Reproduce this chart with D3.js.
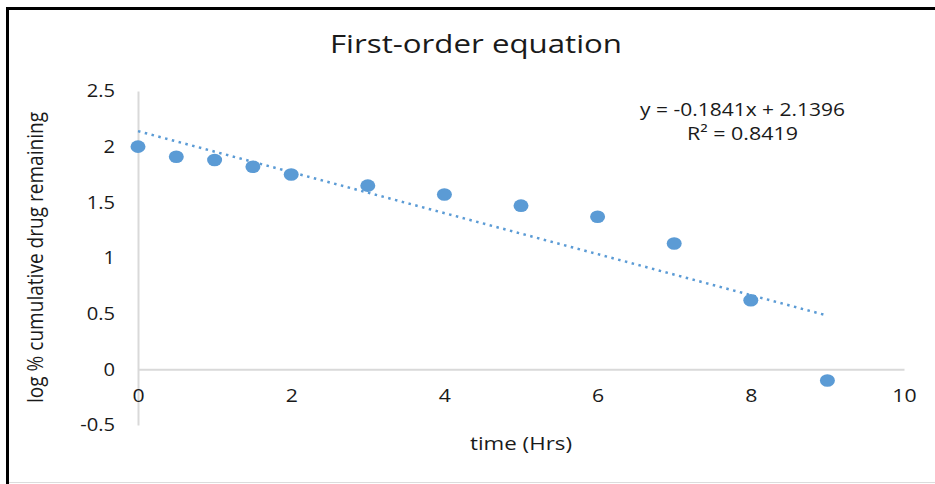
<!DOCTYPE html>
<html>
<head>
<meta charset="utf-8">
<script src="https://cdn.jsdelivr.net/npm/d3@7"></script>
<style>
  body { margin: 0; background: #fff; }
  text { font-family: "Open Sans", "Noto Sans", sans-serif; fill: #1a1a1a; }
</style>
</head>
<body>
<div id="chart"></div>
<script>
// time (Hrs) and log % cumulative drug remaining
const times = [0, 0.5, 1, 1.5, 2, 3, 4, 5, 6, 7, 8, 9];
const logRemaining = [2.0, 1.91, 1.88, 1.82, 1.75, 1.65, 1.57, 1.47, 1.37, 1.13, 0.62, -0.1];
// linear trendline endpoints (from y = -0.1841x + 2.1396)
const trendPoints = [[0, 2.1396], [9, 0.4827]];
const xTicks = [0, 2, 4, 6, 8, 10];
const yTicks = [-0.5, 0, 0.5, 1, 1.5, 2, 2.5];
const titleText = 'First-order equation';
const xLabel = 'time (Hrs)';
const yLabel = 'log % cumulative drug remaining';
const eqLines = ['y = -0.1841x + 2.1396', 'R² = 0.8419'];

const width = 935;
const height = 484;
const margin = { top: 91, right: 31, bottom: 59, left: 138 };

const svg = d3.select('#chart')
    .append('svg')
    .attr('width', width)
    .attr('height', height);

// the source picture's text is a little wider than the font, so stretch it
function stretch(sel, k) {
    sel.each(function() {
        const w = this.getComputedTextLength();
        d3.select(this).attr('textLength', w * k).attr('lengthAdjust', 'spacingAndGlyphs');
    });
}

// frame (black on top/left, faint at the bottom)
svg.append('line').attr('x1', 7.5).attr('x2', width).attr('y1', 8.5).attr('y2', 8.5)
    .attr('stroke', '#000').attr('stroke-width', 3);
svg.append('line').attr('x1', 7.5).attr('x2', 7.5).attr('y1', 7).attr('y2', height)
    .attr('stroke', '#000').attr('stroke-width', 3);
svg.append('line').attr('x1', 9).attr('x2', width).attr('y1', 482.5).attr('y2', 482.5)
    .attr('stroke', '#dcdcdc').attr('stroke-width', 1);

const x = d3.scaleLinear()
    .domain([0, 10])
    .range([margin.left, width - margin.right]);

const y = d3.scaleLinear()
    .domain([-0.5, 2.5])
    .range([height - margin.bottom, margin.top]);

const fmt = d => String(d);

// y axis
const yAxis = svg.append('g')
    .attr('transform', `translate(${margin.left},0)`)
    .call(d3.axisLeft(y).tickValues(yTicks).tickSize(0).tickPadding(23).tickFormat(fmt));
yAxis.select('.domain').attr('stroke', '#d9d9d9').attr('stroke-width', 2);
yAxis.selectAll('text')
    .style('font-size', '18px')
    .style('font-family', '"Open Sans", sans-serif')
    .attr('fill', '#1a1a1a')
    .call(stretch, 1.12);

// x axis along y = 0
const xAxis = svg.append('g')
    .attr('transform', `translate(0,${y(0)})`)
    .call(d3.axisBottom(x).tickValues(xTicks).tickSize(0).tickPadding(20).tickFormat(fmt));
xAxis.select('.domain').attr('stroke', '#d9d9d9').attr('stroke-width', 2);
xAxis.selectAll('text')
    .style('font-size', '18px')
    .style('font-family', '"Open Sans", sans-serif')
    .attr('fill', '#1a1a1a')
    .call(stretch, 1.18);

// trendline
svg.append('path')
    .datum(trendPoints)
    .attr('fill', 'none')
    .attr('stroke', '#5b9bd5')
    .attr('stroke-width', 2.5)
    .attr('stroke-dasharray', '2.5 4.5')
    .attr('d', d3.line().x(d => x(d[0])).y(d => y(d[1])));

// points
svg.selectAll('.dot')
    .data(times.map((t, i) => ({ t, v: logRemaining[i] })))
    .enter().append('ellipse')
    .attr('class', 'dot')
    .attr('cx', d => x(d.t))
    .attr('cy', d => y(d.v))
    .attr('rx', 7.5)
    .attr('ry', 6.3)
    .attr('fill', '#5b9bd5');

// title
svg.append('text')
    .attr('x', 476)
    .attr('y', 53)
    .attr('text-anchor', 'middle')
    .style('font-size', '25px')
    .attr('textLength', 292)
    .attr('lengthAdjust', 'spacingAndGlyphs')
    .text(titleText);

// axis titles
svg.append('text')
    .attr('x', 521)
    .attr('y', 450)
    .attr('text-anchor', 'middle')
    .style('font-size', '19px')
    .attr('textLength', 102)
    .attr('lengthAdjust', 'spacingAndGlyphs')
    .text(xLabel);

svg.append('text')
    .attr('transform', 'translate(43,257.5) rotate(-90)')
    .attr('text-anchor', 'middle')
    .style('font-size', '21px')
    .attr('textLength', 291)
    .attr('lengthAdjust', 'spacingAndGlyphs')
    .text(yLabel);

// equation label
const eqWidths = [205, 111];
svg.selectAll('.eq')
    .data(eqLines)
    .enter().append('text')
    .attr('class', 'eq')
    .attr('x', 742.5)
    .attr('y', (d, i) => 116 + i * 24)
    .attr('text-anchor', 'middle')
    .style('font-size', '18px')
    .attr('textLength', (d, i) => eqWidths[i])
    .attr('lengthAdjust', 'spacingAndGlyphs')
    .text(d => d);
</script>
</body>
</html>
